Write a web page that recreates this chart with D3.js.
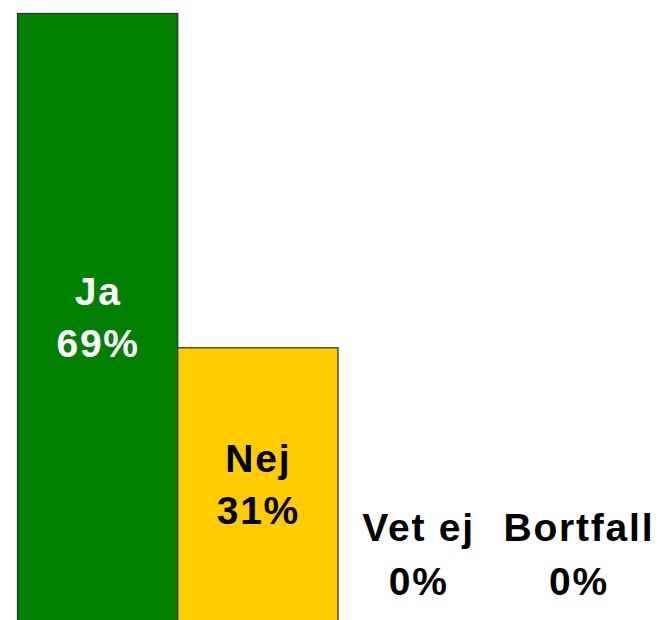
<!DOCTYPE html>
<html>
<head>
<meta charset="utf-8">
<script src="https://cdn.jsdelivr.net/npm/d3@7"></script>
<style>
  html, body { margin: 0; padding: 0; background: #fff; }
  svg { display: block; }
</style>
</head>
<body>
<svg id="chart" width="661" height="620"></svg>
<script>
const categories = ["Ja", "Nej", "Vet ej", "Bortfall"];
const values = [69, 31, 0, 0];
const colors = ["#008000", "#ffcc00", "#ffffff", "#ffffff"];
const labelColors = ["#ffffff", "#000000", "#000000", "#000000"];

const svg = d3.select("#chart");
const W = 661, H = 620;
const margin = { left: 17, right: 3, top: 13, bottom: 0 };

const x = d3.scaleBand()
  .domain(categories)
  .range([margin.left, W - margin.right])
  .padding(0);

const y = d3.scaleLinear()
  .domain([0, d3.max(values)])
  .range([H - margin.bottom, margin.top]);

const data = categories.map((c, i) => ({ c, v: values[i], i }));

svg.selectAll("rect.bar")
  .data(data.filter(d => d.v > 0))
  .join("rect")
  .attr("class", "bar")
  .attr("x", d => x(d.c) + 0.5)
  .attr("y", d => y(d.v) + 0.5)
  .attr("width", x.bandwidth())
  .attr("height", d => y(0) - y(d.v) + 2)
  .attr("fill", d => colors[d.i])
  .attr("stroke", "#2a2a2a")
  .attr("stroke-width", 1.2);

const fontSize = 39;
const lineGap = 52;

const g = svg.selectAll("g.lab")
  .data(data)
  .join("g")
  .attr("class", "lab")
  .attr("transform", d => {
    const cx = x(d.c) + x.bandwidth() / 2 + 1;
    let cy;
    if (d.v > 10) cy = (y(d.v) + y(0)) / 2 + 1.5;
    else cy = y(0) - 66;
    return `translate(${cx},${cy})`;
  });

g.append("text")
  .attr("text-anchor", "middle")
  .attr("y", -13)
  .attr("font-family", "Liberation Sans, Arial, sans-serif")
  .attr("font-weight", "bold")
  .attr("font-size", fontSize)
  .attr("letter-spacing", 1.8)
  .attr("fill", d => labelColors[d.i])
  .text(d => d.c);

g.append("text")
  .attr("text-anchor", "middle")
  .attr("y", d => -13 + lineGap + (d.v > 10 ? 0 : 2))
  .attr("font-family", "Liberation Sans, Arial, sans-serif")
  .attr("font-weight", "bold")
  .attr("font-size", fontSize)
  .attr("letter-spacing", 1.8)
  .attr("fill", d => labelColors[d.i])
  .text(d => d3.format(".0f")(d.v) + "%");
</script>
</body>
</html>
